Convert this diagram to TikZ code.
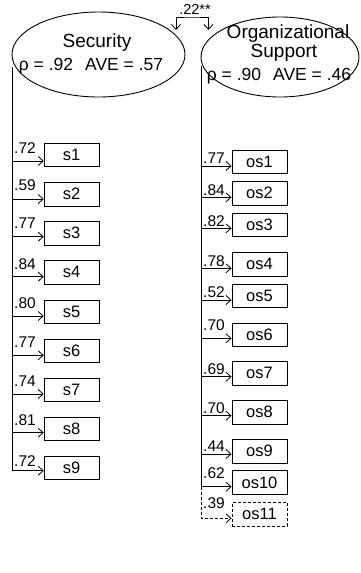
\documentclass[tikz,border=0pt]{standalone}
\usepackage{fontspec}
\setmainfont{Liberation Sans}
\usetikzlibrary{shapes.geometric,arrows.meta}
\tikzset{
  lat/.style={draw, ellipse, inner sep=0pt, line width=0.9pt},
  ltxt/.style={anchor=base, inner sep=0pt, font=\fontsize{19}{21}\selectfont},
  rtxt/.style={anchor=base, inner sep=0pt, font=\fontsize{17.5}{19}\selectfont},
  ind/.style={draw, rectangle, minimum width=55pt, minimum height=23.5pt, inner sep=0pt, line width=0.9pt, font=\fontsize{16.5}{18}\selectfont},
  ld/.style={anchor=base west, inner sep=0pt, font=\fontsize{15.5}{17}\selectfont},
  lnk/.style={line width=0.8pt, -{Straight Barb[length=5pt,width=9pt]}},
  trunk/.style={line width=0.8pt},
  dsh/.style={dash pattern=on 3pt off 2pt}
}
\begin{document}
\begin{tikzpicture}[x=1pt,y=-1pt]
\useasboundingbox (0,0) rectangle (361,573);
% latent variables
\node[lat, minimum width=173pt, minimum height=85pt] (sec) at (98.5,54.5) {};
\node[lat, minimum width=158pt, minimum height=80pt] (os) at (280,57) {};
\node[ltxt] (secname) at (97,47.5) {Security};
\node[rtxt] (secrho) at (91,70) {ρ = .92\hspace{12pt}AVE = .57};
\node[ltxt] (osname1) at (288,38.5) {Organizational};
\node[ltxt] (osname2) at (284,57) {Support};
\node[rtxt] (osrho) at (279,80) {ρ = .90\hspace{12pt}AVE = .46};
% correlation
\coordinate (k1) at (176,30);
\coordinate (k2) at (208.5,30);
\coordinate (ktop) at (192,17);
\draw[line width=0.8pt, {Straight Barb[length=5pt,width=9pt]}-{Straight Barb[length=5pt,width=9pt]}] (k1) |- (ktop) -| (k2);
\node[anchor=base, inner sep=0pt, font=\fontsize{14.5}{16}\selectfont] (corr) at (195,14.5) {.22**};
% security indicators
\coordinate (L0) at (12.5,67);
\foreach \i/\l/\c/\a/\b in {1/.72/155/161/153, 2/.59/194.3/199/190.5, 3/.77/233.3/236.7/228.5, 4/.84/272.3/276.7/269.3, 5/.80/311.7/316/308.3, 6/.77/351/355.3/347.3, 7/.74/390/394/386.7, 8/.81/429/432.7/425.7, 9/.72/468/470.7/466} {
  \node[ind] (s\i) at (71.7,\c) {s\i};
  \coordinate (as\i) at (12.5,\a);
  \node[ld] (ls\i) at (14,\b) {\l};
}
\draw[trunk] (L0) -- (as9);
\foreach \i in {1,...,8} {\draw[lnk] (as\i) -- (as\i -| s\i.west);}
\draw[lnk] (as9) -- (as9 -| s9.west);
% organizational support indicators
\coordinate (R0) at (201.5,66);
\foreach \i/\l/\c/\a/\b in {1/.77/162/166/163.3, 2/.84/193.3/197.3/195, 3/.82/225/228.3/226.7, 4/.78/264.3/268.3/266.7, 5/.52/295.7/300/297.7, 6/.70/334.7/338.3/330, 7/.69/373.3/376.7/374, 8/.70/412.3/415.7/413.3, 9/.44/451.3/454/451.7, 10/.62/482.5/486.7/478.3} {
  \node[ind] (os\i) at (259.5,\c) {os\i};
  \coordinate (aos\i) at (201.5,\a);
  \node[ld] (los\i) at (203,\b) {\l};
  \draw[lnk] (aos\i) -- (aos\i -| os\i.west);
}
\node[ind, dsh] (os11) at (259.5,514.3) {os11};
\coordinate (aos11) at (201.5,518.3);
\node[ld] (los11) at (203,508.3) {.39};
\draw[trunk] (R0) -- (aos10);
\draw[lnk, dsh] (aos10) |- (aos11 -| os11.west);
\end{tikzpicture}
\end{document}
